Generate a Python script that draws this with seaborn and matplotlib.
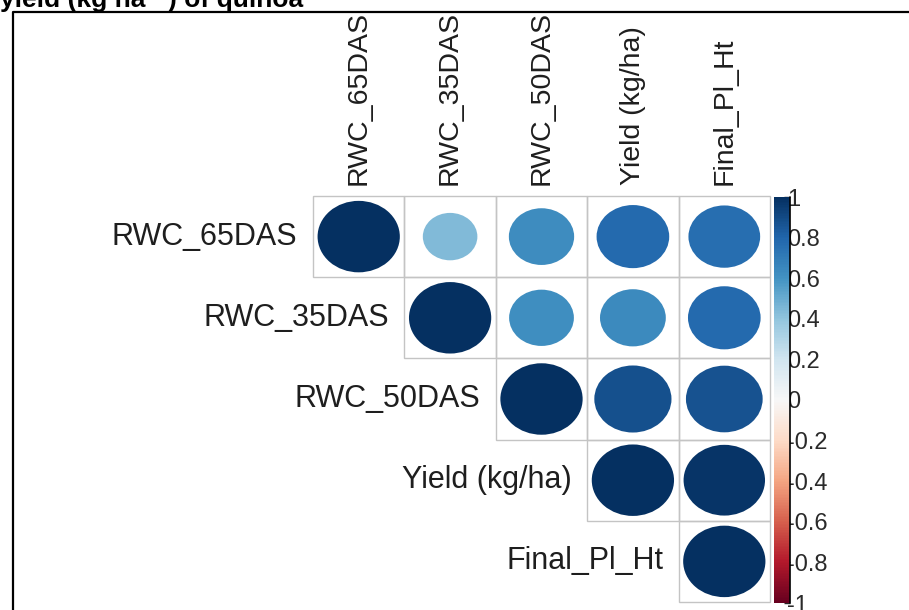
import numpy as np
import pandas as pd
import matplotlib
matplotlib.use("Agg")
import matplotlib.pyplot as plt
import seaborn as sns
from matplotlib.colors import ListedColormap, Normalize
from matplotlib.patches import Ellipse, Rectangle
from matplotlib.lines import Line2D
from matplotlib.cm import ScalarMappable

sns.set_style("white")
plt.rcParams['font.family'] = ['Liberation Sans', 'DejaVu Sans']

# variables and upper-triangle correlations
variables = ["RWC_65DAS", "RWC_35DAS", "RWC_50DAS", "Yield (kg/ha)", "Final_Pl_Ht"]
r_65 = [1.00, 0.44, 0.63, 0.78, 0.76]
r_35 = [1.00, 0.62, 0.64, 0.78]
r_50 = [1.00, 0.88, 0.87]
r_yield = [1.00, 0.98]
r_final = [1.00]
cbar_ticks = [1, 0.8, 0.6, 0.4, 0.2, 0, -0.2, -0.4, -0.6, -0.8, -1]
cbar_labels = ["1", "0.8", "0.6", "0.4", "0.2", "0", "-0.2", "-0.4", "-0.6", "-0.8", "-1"]

n = len(variables)
corr = np.full((n, n), np.nan)
for i, row in enumerate([r_65, r_35, r_50, r_yield, r_final]):
    corr[i, i:] = row
corr_df = pd.DataFrame(corr, index=variables, columns=variables)
mask = np.tril(np.ones((n, n), dtype=bool), k=-1)

W, H = 909, 610
fig = plt.figure(figsize=(W / 100, H / 100), dpi=100)
ax = fig.add_axes([313 / W, 1 - 602 / H, 457 / W, 406 / H])

# white background cells for the upper triangle
sns.heatmap(corr_df.fillna(0), mask=mask, cmap=ListedColormap(["white"]),
            cbar=False, linewidths=0, ax=ax,
            xticklabels=False, yticklabels=False)

# grey cell borders, upper triangle only
for i in range(n):
    for j in range(i, n):
        ax.add_patch(Rectangle((j, i), 1, 1, facecolor="none",
                               edgecolor="#c4c4c4", lw=1, clip_on=False))

cmap = sns.color_palette("RdBu", as_cmap=True)
norm = Normalize(-1, 1)
for i in range(n):
    for j in range(i, n):
        r = corr[i, j]
        s = np.sqrt(abs(r))
        ax.add_patch(Ellipse((j + 0.5, i + 0.5), 0.9 * s, 0.88 * s,
                             facecolor=cmap(norm(r)), edgecolor="none"))

# labels next to the diagonal and on top
for i, name in enumerate(variables):
    ax.text(i - 0.17, i + 0.5, name, ha="right", va="center",
            fontsize=22, color="#1e1e1e")
    ax.text(i + 0.5, -0.14, name, ha="center", va="bottom", rotation=90,
            fontsize=20.5, color="#1e1e1e")

# colour bar
cax = fig.add_axes([774 / W, 1 - 603 / H, 16 / W, 406 / H])
cb = fig.colorbar(ScalarMappable(norm=norm, cmap=cmap), cax=cax)
cb.outline.set_visible(False)
cb.set_ticks(cbar_ticks)
cb.set_ticklabels(cbar_labels)
cax.tick_params(axis="y", direction="in", length=4, width=1, pad=-2,
                labelsize=17, labelcolor="#2a2a2a")
cax.plot([1, 1], [0, 1], transform=cax.transAxes, color="black", lw=1.2,
         clip_on=False)

# cropped frame and title from the source page
fig.add_artist(Line2D([13 / W, 13 / W, 1], [0, 1 - 12 / H, 1 - 12 / H],
                      transform=fig.transFigure, color="black", lw=1.6))
fig.text(0.0, 1 - 7 / H, "yield (kg ha\u207b\u00b9) of quinoa", fontsize=19,
         fontweight="bold", ha="left", va="baseline", color="black")

fig.savefig("out.png", dpi=100)
